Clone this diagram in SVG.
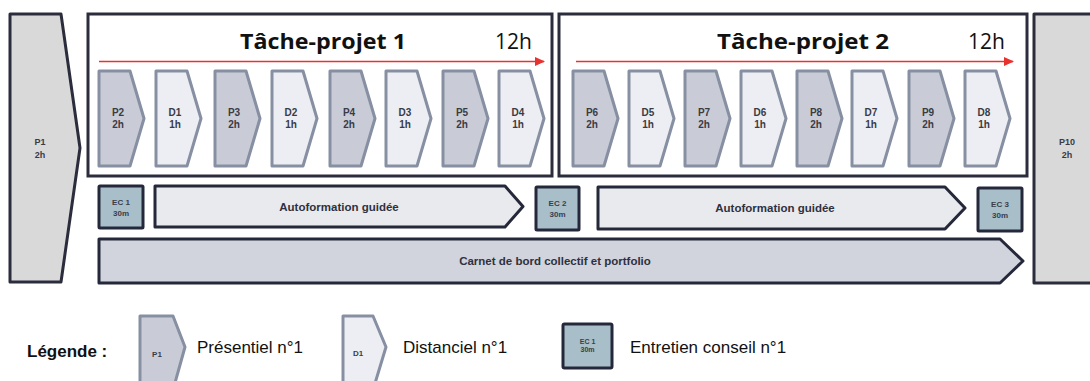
<svg xmlns="http://www.w3.org/2000/svg" width="1090" height="381" viewBox="0 0 1090 381">
<style>
.big{fill:#d9d9da;stroke:#2b2d3d;stroke-width:3;stroke-linejoin:round}
.frame{fill:#fff;stroke:#2b2d3d;stroke-width:3}
.pc{fill:#c9ccd6;stroke:#878fa2;stroke-width:3;stroke-linejoin:round}
.dc{fill:#eceef3;stroke:#878fa2;stroke-width:3;stroke-linejoin:round}
.ec{fill:#a8bec8;stroke:#25283a;stroke-width:3;stroke-linejoin:round}
.af{fill:#e9eaee;stroke:#25283a;stroke-width:3;stroke-linejoin:round}
.cb{fill:#d1d4dc;stroke:#25283a;stroke-width:3;stroke-linejoin:round}
.lbl{font-family:"Liberation Sans",Arial,sans-serif;font-weight:bold;font-size:10px;fill:#3a3b45;text-anchor:middle}
.sm{font-family:"Liberation Sans",Arial,sans-serif;font-weight:bold;font-size:8px;fill:#3a3d4a;text-anchor:middle}
.band{font-family:"Liberation Sans",Arial,sans-serif;font-weight:bold;font-size:11.5px;fill:#2e3140;text-anchor:middle}
.title{font-family:"Open Sans","Liberation Sans",Arial,sans-serif;font-weight:bold;font-size:21px;fill:#111}
.hrs{font-family:"Open Sans","Liberation Sans",Arial,sans-serif;font-size:21px;fill:#111}
.leg{font-family:"Liberation Sans",Arial,sans-serif;font-size:17px;fill:#111}
.red{stroke:#e8322f;stroke-width:1.5;fill:none}
</style>
<defs>
<marker id="ah" markerWidth="10" markerHeight="9" refX="9" refY="4.5" orient="auto" markerUnits="userSpaceOnUse">
<path d="M0,0 L10,4.5 L0,9 Z" fill="#e8322f"/>
</marker>
</defs>

<g id="P1">
<polygon class="big" points="10,14 61,14 80,148 61,282 10,282"/>
<text class="lbl" x="40" y="145" style="font-size:9px">P1</text>
<text class="lbl" x="40" y="158" style="font-size:9px">2h</text>
</g>
<g id="P10">
<polygon class="big" points="1034,14 1095,14 1095,283 1034,283"/>
<text class="lbl" x="1067" y="145" style="font-size:9px">P10</text>
<text class="lbl" x="1067" y="158" style="font-size:9px">2h</text>
</g>

<g id="tp1">
<rect class="frame" x="88" y="14" width="464" height="162"/>
<text class="title" x="240" y="49" textLength="166" lengthAdjust="spacingAndGlyphs">Tâche-projet 1</text>
<text class="hrs" x="495" y="49">12h</text>
</g>
<g id="tp2">
<rect class="frame" x="559" y="14" width="468" height="162"/>
<text class="title" x="717" y="49" textLength="172" lengthAdjust="spacingAndGlyphs">Tâche-projet 2</text>
<text class="hrs" x="968" y="49">12h</text>
</g>

<g id="connectors">
<line class="red" x1="99" y1="61.5" x2="544" y2="61.5" marker-end="url(#ah)"/>
<line class="red" x1="576" y1="61.5" x2="1013" y2="61.5" marker-end="url(#ah)"/>
</g>

<g id="P2"><polygon class="pc" points="99,71 130,71 144,118.5 130,166 99,166"/><text class="lbl" x="118" y="116">P2</text><text class="lbl" x="118" y="128">2h</text></g>
<g id="D1"><polygon class="dc" points="156,71 187,71 201,118.5 187,166 156,166"/><text class="lbl" x="175" y="116">D1</text><text class="lbl" x="175" y="128">1h</text></g>
<g id="P3"><polygon class="pc" points="215,71 246,71 260,118.5 246,166 215,166"/><text class="lbl" x="234" y="116">P3</text><text class="lbl" x="234" y="128">2h</text></g>
<g id="D2"><polygon class="dc" points="272,71 303,71 317,118.5 303,166 272,166"/><text class="lbl" x="291" y="116">D2</text><text class="lbl" x="291" y="128">1h</text></g>
<g id="P4"><polygon class="pc" points="330,71 361,71 375,118.5 361,166 330,166"/><text class="lbl" x="349" y="116">P4</text><text class="lbl" x="349" y="128">2h</text></g>
<g id="D3"><polygon class="dc" points="386,71 417,71 431,118.5 417,166 386,166"/><text class="lbl" x="405" y="116">D3</text><text class="lbl" x="405" y="128">1h</text></g>
<g id="P5"><polygon class="pc" points="443,71 474,71 488,118.5 474,166 443,166"/><text class="lbl" x="462" y="116">P5</text><text class="lbl" x="462" y="128">2h</text></g>
<g id="D4"><polygon class="dc" points="499,71 530,71 544,118.5 530,166 499,166"/><text class="lbl" x="518" y="116">D4</text><text class="lbl" x="518" y="128">1h</text></g>

<g id="P6"><polygon class="pc" points="573,71 604,71 618,118.5 604,166 573,166"/><text class="lbl" x="592" y="116">P6</text><text class="lbl" x="592" y="128">2h</text></g>
<g id="D5"><polygon class="dc" points="629,71 660,71 674,118.5 660,166 629,166"/><text class="lbl" x="648" y="116">D5</text><text class="lbl" x="648" y="128">1h</text></g>
<g id="P7"><polygon class="pc" points="685,71 716,71 730,118.5 716,166 685,166"/><text class="lbl" x="704" y="116">P7</text><text class="lbl" x="704" y="128">2h</text></g>
<g id="D6"><polygon class="dc" points="741,71 772,71 786,118.5 772,166 741,166"/><text class="lbl" x="760" y="116">D6</text><text class="lbl" x="760" y="128">1h</text></g>
<g id="P8"><polygon class="pc" points="797,71 828,71 842,118.5 828,166 797,166"/><text class="lbl" x="816" y="116">P8</text><text class="lbl" x="816" y="128">2h</text></g>
<g id="D7"><polygon class="dc" points="852,71 883,71 897,118.5 883,166 852,166"/><text class="lbl" x="871" y="116">D7</text><text class="lbl" x="871" y="128">1h</text></g>
<g id="P9"><polygon class="pc" points="909,71 940,71 954,118.5 940,166 909,166"/><text class="lbl" x="928" y="116">P9</text><text class="lbl" x="928" y="128">2h</text></g>
<g id="D8"><polygon class="dc" points="965,71 996,71 1010,118.5 996,166 965,166"/><text class="lbl" x="984" y="116">D8</text><text class="lbl" x="984" y="128">1h</text></g>

<g id="EC1"><rect class="ec" x="99" y="186" width="44" height="42" rx="1"/><text class="sm" x="121" y="205">EC 1</text><text class="sm" x="121" y="216">30m</text></g>
<g id="AF1"><polygon class="af" points="155,186 505,186 523,206.5 505,227 155,227"/><text class="band" x="339" y="211">Autoformation guidée</text></g>
<g id="EC2"><rect class="ec" x="536" y="187" width="43" height="43" rx="1"/><text class="sm" x="557.5" y="206">EC 2</text><text class="sm" x="557.5" y="217">30m</text></g>
<g id="AF2"><polygon class="af" points="598,187 945,187 965,208 945,229 598,229"/><text class="band" x="775" y="212">Autoformation guidée</text></g>
<g id="EC3"><rect class="ec" x="978" y="188" width="44" height="43" rx="1"/><text class="sm" x="1000" y="207">EC 3</text><text class="sm" x="1000" y="218">30m</text></g>
<g id="CB"><polygon class="cb" points="99,239 1000,239 1023,261 1000,283 99,283"/><text class="band" x="555" y="265">Carnet de bord collectif et portfolio</text></g>

<g id="legend">
<text class="leg" x="27" y="357" style="font-weight:bold">Légende :</text>
<polygon class="pc" points="140,316 173,316 185,347 173,390 140,390"/>
<text class="sm" x="157" y="357">P1</text>
<text class="leg" x="197" y="353">Présentiel n°1</text>
<polygon class="dc" points="343,316 373,316 386,347 373,390 343,390"/>
<text class="sm" x="358" y="356">D1</text>
<text class="leg" x="403" y="353">Distanciel n°1</text>
<rect class="ec" x="563" y="324" width="49" height="44" rx="1.5"/>
<text class="sm" x="587.5" y="344" style="font-size:7px">EC 1</text>
<text class="sm" x="587.5" y="352" style="font-size:7px">30m</text>
<text class="leg" x="630" y="353">Entretien conseil n°1</text>
</g>
</svg>
